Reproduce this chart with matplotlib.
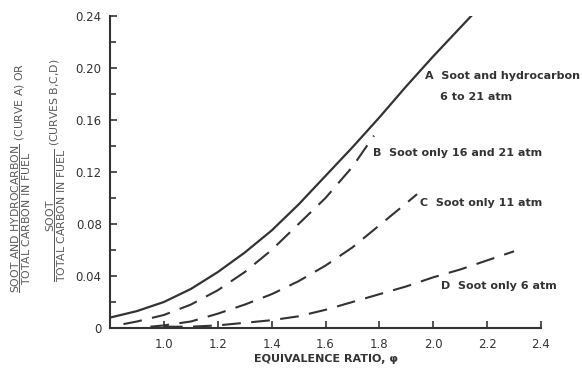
import matplotlib
matplotlib.use("Agg")
import matplotlib.pyplot as plt
import numpy as np

# ---- data ----
xa = [0.8, 0.9, 1.0, 1.1, 1.2, 1.3, 1.4, 1.5, 1.6, 1.7, 1.8, 1.9, 2.0, 2.1, 2.15]
ya = [0.008, 0.013, 0.020, 0.030, 0.043, 0.058, 0.075, 0.095, 0.117, 0.139, 0.162, 0.186, 0.209, 0.231, 0.242]

xb = [0.85, 0.9, 1.0, 1.1, 1.2, 1.3, 1.4, 1.5, 1.6, 1.7, 1.78]
yb = [0.003, 0.005, 0.010, 0.018, 0.029, 0.043, 0.060, 0.080, 0.100, 0.124, 0.148]

xc = [0.95, 1.0, 1.1, 1.2, 1.3, 1.4, 1.5, 1.6, 1.7, 1.8, 1.9, 1.94]
yc = [0.001, 0.002, 0.005, 0.011, 0.018, 0.026, 0.036, 0.048, 0.062, 0.079, 0.096, 0.103]

xd = [1.0, 1.1, 1.2, 1.3, 1.4, 1.5, 1.6, 1.7, 1.8, 1.9, 2.0, 2.1, 2.2, 2.3]
yd = [0.001, 0.001, 0.002, 0.004, 0.006, 0.009, 0.014, 0.020, 0.026, 0.032, 0.039, 0.045, 0.052, 0.059]

xticks = [1.0, 1.2, 1.4, 1.6, 1.8, 2.0, 2.2, 2.4]
xticklabels = ["1.0", "1.2", "1.4", "1.6", "1.8", "2.0", "2.2", "2.4"]
yticks = [0, 0.04, 0.08, 0.12, 0.16, 0.20, 0.24]
yticklabels = ["0", "0.04", "0.08", "0.12", "0.16", "0.20", "0.24"]

labels = [
    ("A  Soot and hydrocarbon", 1.97, 0.194),
    ("6 to 21 atm", 2.025, 0.178),
    ("B  Soot only 16 and 21 atm", 1.775, 0.135),
    ("C  Soot only 11 atm", 1.95, 0.096),
    ("D  Soot only 6 atm", 2.03, 0.032),
]

ink = "#333333"
W, H = 582, 368
fig = plt.figure(figsize=(W / 100, H / 100), dpi=100)
ax = fig.add_axes([110 / W, 1 - 328 / H, (541 - 110) / W, (328 - 16) / H])

ax.plot(xa, ya, color=ink, lw=1.6, solid_capstyle="butt")
for xs, ys in [(xb, yb), (xc, yc), (xd, yd)]:
    ax.plot(xs, ys, color=ink, lw=1.5, dashes=(9, 5))

ax.set_xlim(0.8, 2.4)
ax.set_ylim(0, 0.24)
for s in ["top", "right"]:
    ax.spines[s].set_visible(False)
for s in ["left", "bottom"]:
    ax.spines[s].set_linewidth(1.5)
    ax.spines[s].set_color(ink)

ax.set_xticks(xticks)
ax.set_xticklabels(xticklabels)
ax.set_yticks(yticks)
ax.set_yticklabels(yticklabels)
ax.set_yticks(np.arange(0.02, 0.24, 0.04), minor=True)
ax.tick_params(axis="both", which="both", direction="in", color=ink, width=1.2,
               labelcolor=ink, labelsize=8.5)
ax.tick_params(axis="both", which="major", length=5)
ax.tick_params(axis="y", which="minor", length=4)
ax.tick_params(axis="x", pad=7)
ax.tick_params(axis="y", pad=6)

for txt, x, y in labels:
    ax.text(x, y, txt, color=ink, fontsize=8, fontweight="bold", va="center", ha="left")

ax.set_xlabel("EQUIVALENCE RATIO, φ", color=ink, fontsize=8, fontweight="bold", labelpad=2)

lab_color = "#5a5a5a"
fig.text(21 / W, 1 - 178 / H,
         r"$\dfrac{\mathrm{SOOT\ AND\ HYDROCARBON}}{\mathrm{TOTAL\ CARBON\ IN\ FUEL}}$ (CURVE A) OR",
         rotation=90, color=lab_color, fontsize=7.8, ha="center", va="center")
fig.text(56 / W, 1 - 170 / H,
         r"$\dfrac{\mathrm{SOOT}}{\mathrm{TOTAL\ CARBON\ IN\ FUEL}}$ (CURVES B,C,D)",
         rotation=90, color=lab_color, fontsize=7.8, ha="center", va="center")

fig.savefig("out.png", dpi=100)
